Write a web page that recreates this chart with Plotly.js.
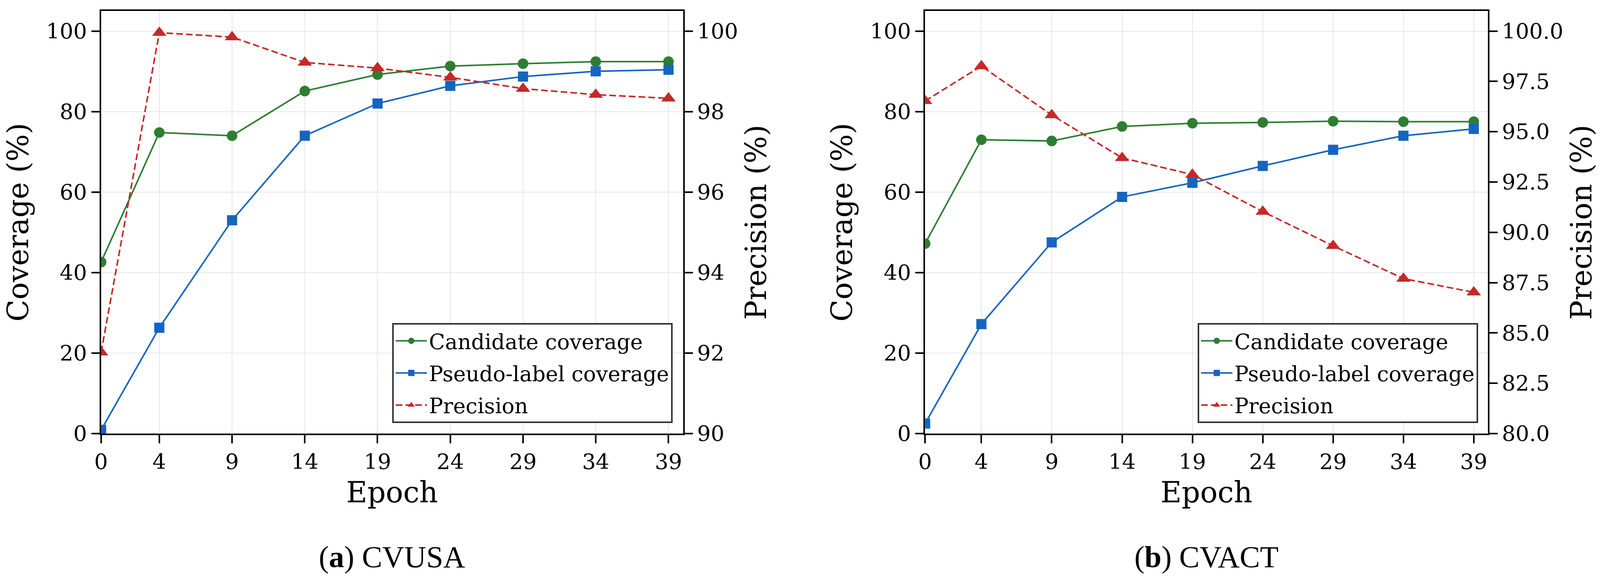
<!DOCTYPE html>
<html>
<head>
<meta charset="utf-8">
<script src="https://cdn.plot.ly/plotly-3.0.1.min.js"></script>
<style>
  html, body { margin: 0; padding: 0; background: #fff; overflow: hidden; }
  #chart { width: 100vw; height: 1490px; }
</style>
</head>
<body>
<div id="chart"></div>
<script>
// epochs shown on the x axis
var epochs = [0, 4, 9, 14, 19, 24, 29, 34, 39];

// (a) CVUSA
var cvusaCandidate = [42.6, 74.8, 74.0, 85.1, 89.2, 91.3, 91.9, 92.4, 92.4];
var cvusaPseudo = [0.9, 26.3, 53.0, 74.0, 82.0, 86.4, 88.7, 90.0, 90.4];
var cvusaPrecision = [92.02, 99.96, 99.85, 99.22, 99.08, 98.85, 98.57, 98.42, 98.33];

// (b) CVACT
var cvactCandidate = [47.2, 73.0, 72.7, 76.3, 77.1, 77.3, 77.6, 77.5, 77.5];
var cvactPseudo = [2.5, 27.2, 47.5, 58.8, 62.3, 66.5, 70.5, 74.0, 75.7];
var cvactPrecision = [96.53, 98.26, 95.83, 93.70, 92.87, 91.03, 89.33, 87.70, 87.02];

var seriesNames = ['Candidate coverage', 'Pseudo-label coverage', 'Precision'];
var captions = ['(<b>a</b>) CVUSA', '(<b>b</b>) CVACT'];

var GREEN = '#2e7d32', BLUE = '#1565c0', RED = '#c62828';
var SERIF = 'DejaVu Serif, serif';

// the window may be narrower than 4320, so the figure follows it
var W = Math.min(window.innerWidth || 4320, 4320);
var H = 1490;

function panelTraces(cand, pseudo, prec, xa, ya, ya2, leg) {
    return [
        {
            x: epochs, y: cand, xaxis: xa, yaxis: ya, legend: leg, legendgroup: 'c',
            name: seriesNames[0], type: 'scatter', mode: 'lines+markers',
            line: {color: GREEN, width: 4},
            marker: {symbol: 'circle', size: 27, color: GREEN}
        },
        {
            x: epochs, y: pseudo, xaxis: xa, yaxis: ya, legend: leg, legendgroup: 'p',
            name: seriesNames[1], type: 'scatter', mode: 'lines+markers',
            line: {color: BLUE, width: 4},
            marker: {symbol: 'square', size: 26, color: BLUE}
        },
        {
            x: epochs, y: prec, xaxis: xa, yaxis: ya2, legend: leg, legendgroup: 'r',
            name: seriesNames[2], type: 'scatter', mode: 'lines+markers',
            line: {color: RED, width: 4, dash: '17px,8px'},
            marker: {symbol: 'triangle-up', size: 32, color: RED}
        }
    ];
}

var data = []
    .concat(panelTraces(cvusaCandidate, cvusaPseudo, cvusaPrecision, 'x', 'y', 'y2', 'legend'))
    .concat(panelTraces(cvactCandidate, cvactPseudo, cvactPrecision, 'x2', 'y3', 'y4', 'legend2'));

var tickFont = {family: SERIF, size: 55, color: '#000'};
var titleFont = {family: SERIF, size: 74, color: '#000'};

function xAxis(domain, anchor) {
    return {
        domain: domain, anchor: anchor, range: [0, 40],
        tickvals: epochs, ticks: 'outside', ticklen: 21, tickwidth: 4, tickcolor: '#000',
        showline: true, linewidth: 4, linecolor: '#000', mirror: true,
        showgrid: true, gridcolor: '#e6e6e6', gridwidth: 2, zeroline: false,
        tickfont: tickFont,
        title: {text: 'Epoch', font: titleFont, standoff: 22}
    };
}

function leftAxis(anchor) {
    return {
        domain: [0.255, 0.9812], anchor: anchor, range: [0, 105],
        tickvals: [0, 20, 40, 60, 80, 100], ticks: 'outside', ticklen: 21, tickwidth: 4, tickcolor: '#000',
        showline: true, linewidth: 4, linecolor: '#000',
        showgrid: true, gridcolor: '#e6e6e6', gridwidth: 2, zeroline: false,
        tickfont: tickFont,
        title: {text: 'Coverage (%)', font: titleFont, standoff: 22}
    };
}

function rightAxis(anchor, overlay, range, dtick, fmt) {
    return {
        domain: [0.255, 0.9812], anchor: anchor, overlaying: overlay, side: 'right',
        range: range, dtick: dtick, tick0: range[0], tickformat: fmt,
        ticks: 'outside', ticklen: 21, tickwidth: 4, tickcolor: '#000',
        showline: true, linewidth: 4, linecolor: '#000',
        showgrid: false, zeroline: false,
        tickfont: tickFont,
        title: {text: 'Precision (%)', font: titleFont, standoff: 22}
    };
}

function legendAt(xr) {
    return {
        x: xr, y: 0.2732, xanchor: 'right', yanchor: 'bottom',
        bgcolor: '#fff', bordercolor: '#333', borderwidth: 4,
        font: {family: SERIF, size: 54, color: '#000'},
        itemwidth: 80, tracegroupgap: 9
    };
}

var layout = {
    width: W, height: H,
    margin: {l: 0, r: 0, t: 0, b: 0},
    paper_bgcolor: '#fff', plot_bgcolor: '#fff',
    font: {family: SERIF, color: '#000'},
    showlegend: true,
    xaxis: xAxis([0.0632, 0.4269], 'y'),
    yaxis: leftAxis('x'),
    yaxis2: rightAxis('x', 'y', [90, 100.5], 2, 'd'),
    xaxis2: xAxis([0.5782, 0.9299], 'y3'),
    yaxis3: leftAxis('x2'),
    yaxis4: rightAxis('x2', 'y3', [80, 101], 2.5, '.1f'),
    legend: legendAt(0.4204),
    legend2: legendAt(0.9238),
    annotations: captions.map(function (c, i) {
        return {
            text: c, xref: 'paper', yref: 'paper',
            x: i === 0 ? 0.2451 : 0.7541, y: 0.0436,
            xanchor: 'center', yanchor: 'middle', showarrow: false,
            font: {family: 'Liberation Serif, serif', size: 78, color: '#000'}
        };
    })
};

Plotly.newPlot('chart', data, layout, {staticPlot: true});
</script>
</body>
</html>
